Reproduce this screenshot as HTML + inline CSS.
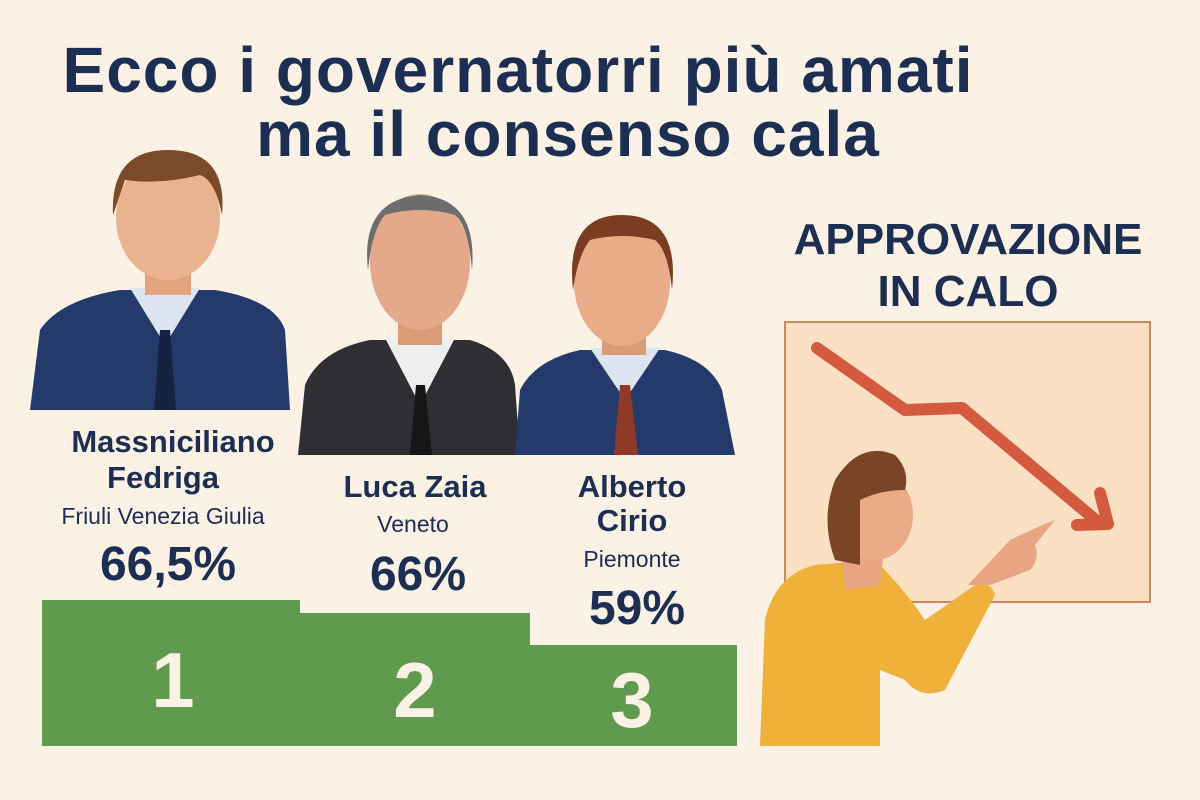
<!DOCTYPE html>
<html><head><meta charset="utf-8"><style>
html,body{margin:0;padding:0;background:#fbf1e4;}
svg{display:block}
text{font-family:"Liberation Sans",sans-serif;}
</style></head><body>
<svg width="1200" height="800" viewBox="0 0 1200 800">
<rect width="1200" height="800" fill="#fbf1e4"/>
<g fill="#1c2e52" font-weight="bold" text-anchor="middle">
<text x="518" y="92" font-size="64" letter-spacing="1">Ecco i governatorri più amati</text>
<text x="568" y="156" font-size="64" letter-spacing="1">ma il consenso cala</text>
<text x="968" y="254" font-size="44">APPROVAZIONE</text>
<text x="968" y="306" font-size="44">IN CALO</text>
</g>
<!-- person 1 -->
<path d="M30 410 L40 330 Q60 300 120 290 L215 290 Q275 300 285 330 L290 410 Z" fill="#233a6a"/>
<path d="M130 288 L165 345 L200 288 Z" fill="#dce5f0"/>
<path d="M160 330 L170 330 L176 410 L154 410 Z" fill="#152340"/>
<rect x="145" y="250" width="46" height="45" fill="#e2a37e"/>
<ellipse cx="168" cy="218" rx="52" ry="62" fill="#eab38f"/>
<path d="M113 215 Q110 150 168 150 Q228 150 222 215 Q215 180 200 175 Q160 185 125 180 Z" fill="#7a4a2a"/>
<!-- person 2 -->
<path d="M298 455 L305 385 Q320 350 370 340 L470 340 Q510 352 515 385 L520 455 Z" fill="#2f2f33"/>
<path d="M385 338 L420 405 L455 338 Z" fill="#eef0f0"/>
<path d="M416 385 L425 385 L432 455 L410 455 Z" fill="#161616"/>
<rect x="398" y="300" width="44" height="45" fill="#d99b78"/>
<ellipse cx="420" cy="262" rx="50" ry="68" fill="#e4a98a"/>
<path d="M368 270 Q360 200 420 195 Q478 198 472 270 Q468 225 455 215 Q420 205 385 215 Q372 230 368 270 Z" fill="#6d6d6d"/>
<!-- person 3 -->
<path d="M515 455 L520 390 Q535 360 580 350 L665 350 Q710 360 722 390 L735 455 Z" fill="#233a6a"/>
<path d="M590 348 L625 400 L660 348 Z" fill="#dce5f0"/>
<path d="M620 385 L630 385 L638 455 L614 455 Z" fill="#8f3a26"/>
<rect x="602" y="315" width="44" height="40" fill="#d99b78"/>
<ellipse cx="622" cy="282" rx="48" ry="64" fill="#e8ac88"/>
<path d="M573 290 Q565 215 622 215 Q680 215 672 290 Q668 250 655 240 Q622 232 590 240 Q578 255 573 290 Z" fill="#7a3d22"/>
<!-- names -->
<g fill="#1c2e52" text-anchor="middle">
<text x="173" y="452" font-size="31" font-weight="bold">Massniciliano</text>
<text x="163" y="488" font-size="31" font-weight="bold">Fedriga</text>
<text x="163" y="524" font-size="23">Friuli Venezia Giulia</text>
<text x="168" y="580" font-size="48" font-weight="bold">66,5%</text>
<text x="415" y="497" font-size="31" font-weight="bold">Luca Zaia</text>
<text x="413" y="532" font-size="23">Veneto</text>
<text x="418" y="590" font-size="48" font-weight="bold">66%</text>
<text x="632" y="497" font-size="31" font-weight="bold">Alberto</text>
<text x="632" y="531" font-size="31" font-weight="bold">Cirio</text>
<text x="632" y="567" font-size="23">Piemonte</text>
<text x="637" y="624" font-size="48" font-weight="bold">59%</text>
</g>
<!-- podium -->
<rect x="42" y="600" width="258" height="146" fill="#5f9a4f"/>
<rect x="300" y="613" width="230" height="133" fill="#5f9a4f"/>
<rect x="530" y="645" width="207" height="101" fill="#5f9a4f"/>
<g fill="#fbf1e4" font-weight="bold" text-anchor="middle" font-size="78">
<text x="173" y="707">1</text>
<text x="415" y="717">2</text>
<text x="632" y="727">3</text>
</g>
<!-- chart board -->
<rect x="785" y="322" width="365" height="280" fill="#fbe0c4" stroke="#c98a5e" stroke-width="2"/>
<polyline points="817,348 905,410 962,408 1098,522" fill="none" stroke="#d35a3e" stroke-width="12" stroke-linejoin="round" stroke-linecap="round"/>
<polyline points="1100,493 1108,524 1077,525" fill="none" stroke="#d35a3e" stroke-width="12" stroke-linejoin="round" stroke-linecap="round"/>
<!-- woman -->
<path d="M760 746 L765 620 Q775 575 815 565 L875 560 Q905 590 925 620 L975 585 Q990 580 995 595 L945 690 Q920 700 905 680 L880 670 L880 746 Z" fill="#efb13a"/>
<path d="M968 585 L1010 540 Q1030 530 1055 520 L1035 545 Q1040 560 1030 570 L990 585 Z" fill="#e8a584"/>
<path d="M845 590 L840 540 L885 540 L880 585 Z" fill="#e8a584"/>
<ellipse cx="875" cy="515" rx="38" ry="45" fill="#eaab88"/>
<path d="M835 560 Q820 520 835 480 Q860 440 895 455 Q910 470 905 490 Q880 490 860 500 Q860 540 860 565 Z" fill="#7a4526"/>
</svg>
</body></html>
